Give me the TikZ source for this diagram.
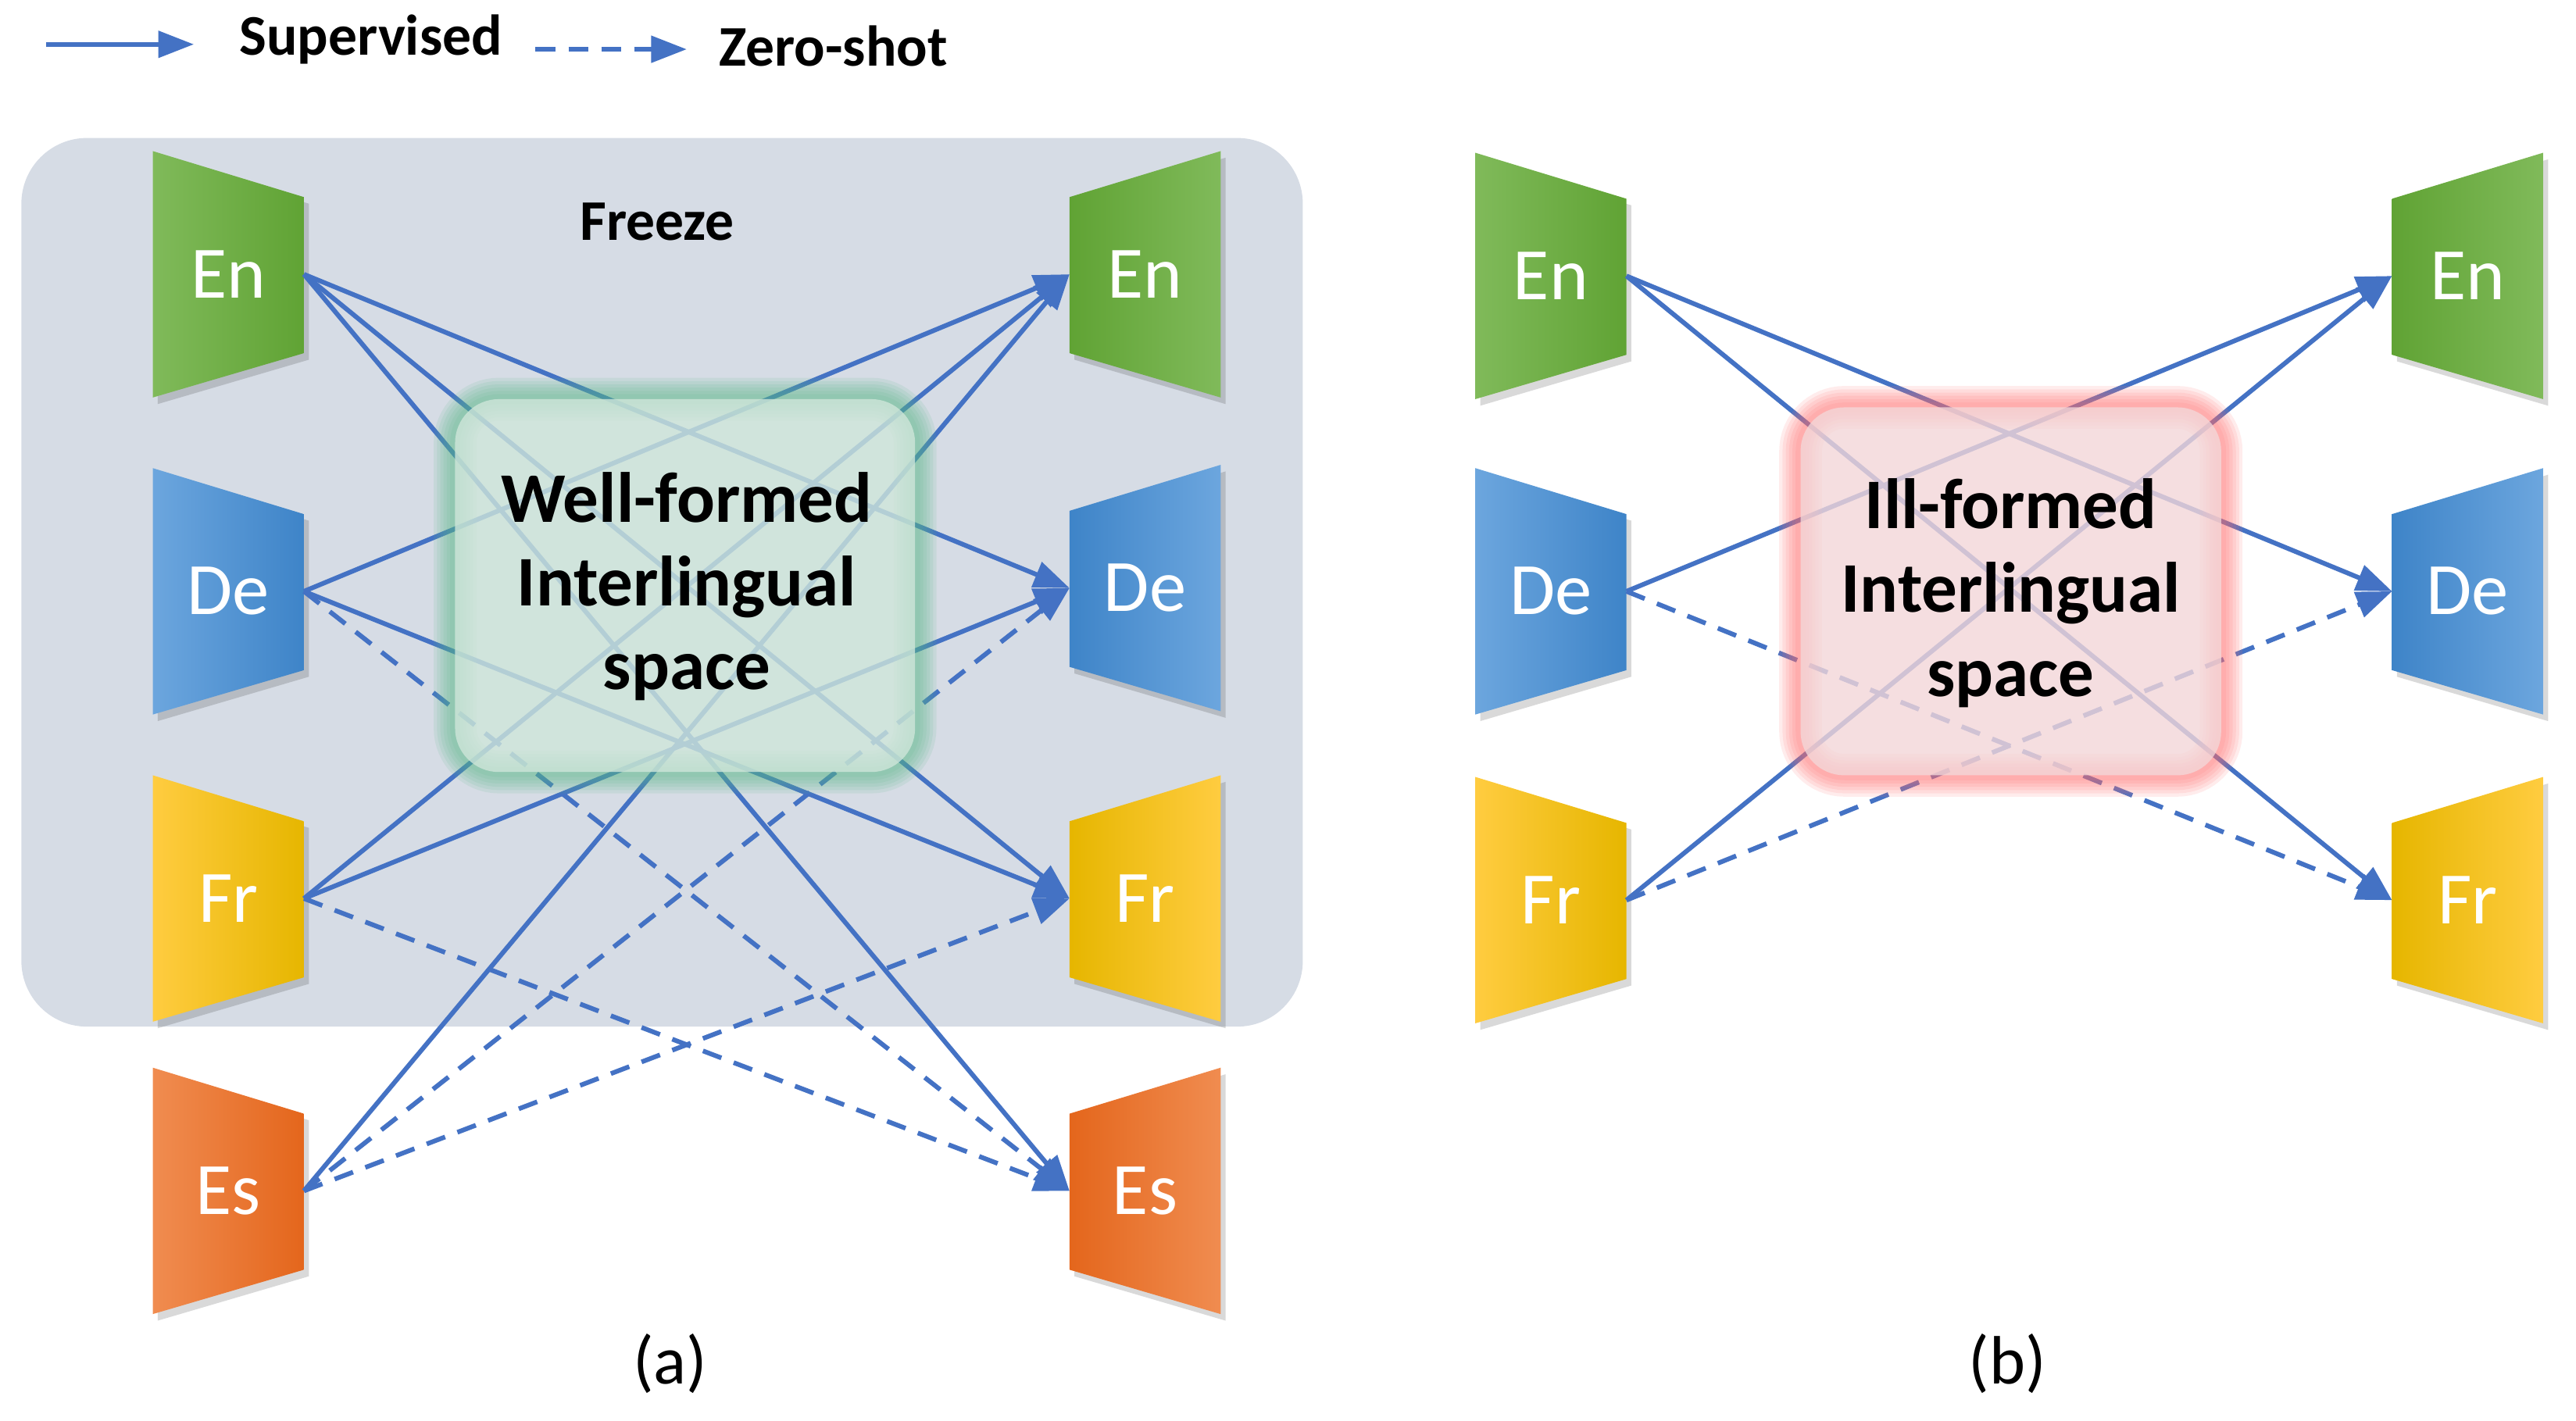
\documentclass[tikz,border=0pt]{standalone}
\usepackage{fontspec}
\setmainfont{Carlito}
\usetikzlibrary{arrows.meta}
\definecolor{ln}{RGB}{68,114,196}
\definecolor{gA}{RGB}{128,186,90}\definecolor{gB}{RGB}{96,163,52}
\definecolor{bA}{RGB}{108,166,222}\definecolor{bB}{RGB}{62,132,200}
\definecolor{yA}{RGB}{255,204,64}\definecolor{yB}{RGB}{230,182,0}
\definecolor{oA}{RGB}{240,140,80}\definecolor{oB}{RGB}{228,102,28}
\definecolor{frz}{RGB}{214,220,229}
\definecolor{glg}{RGB}{90,185,135}
\definecolor{glr}{RGB}{255,110,110}
\newcommand\myEnc[6]{% x y colA colB label name  (wide side left)
  \fill[black,opacity=0.15] (#1-46+3,#2-75+4)--(#1+46+3,#2-47+4)--(#1+46+3,#2+48+4)--(#1-46+3,#2+75+4)--cycle;
  \shade[left color=#3,right color=#4] (#1-46,#2-75)--(#1+46,#2-47)--(#1+46,#2+48)--(#1-46,#2+75)--cycle;
  \node[lab] at (#1,#2) {#5};
  \coordinate (#6) at (#1+46,#2);}
\newcommand\myDec[6]{% wide side right
  \fill[black,opacity=0.15] (#1-46+3,#2-47+4)--(#1+46+3,#2-75+4)--(#1+46+3,#2+75+4)--(#1-46+3,#2+48+4)--cycle;
  \shade[left color=#4,right color=#3] (#1-46,#2-47)--(#1+46,#2-75)--(#1+46,#2+75)--(#1-46,#2+48)--cycle;
  \node[lab] at (#1,#2) {#5};
  \coordinate (#6) at (#1-46,#2);}
\tikzset{x=0.3pt,y=-0.3pt,
  lab/.style={text=white,font=\fontsize{13.5}{15}\selectfont},
  sup/.style={draw=ln,line width=0.85pt,-{Triangle[length=6.5pt,width=4.8pt]}},
  zs/.style={sup,dash pattern=on 3.6pt off 2.4pt},
  big/.style={font=\bfseries\fontsize{13}{15.3}\selectfont,align=center},
}
\begin{document}
\begin{tikzpicture}
\useasboundingbox (0,0) rectangle (1568,865);
% legend
\draw[sup] (28,27) -- (118,27);
\node[anchor=west,font=\bfseries\fontsize{10.5}{12}\selectfont] (ls) at (134,24) {Supervised};
\draw[zs] (326,30) -- (418,30);
\node[anchor=west,font=\bfseries\fontsize{10.5}{12}\selectfont] (lz) at (426,28) {Zero-shot};
% (a)
\fill[frz,rounded corners=12pt] (13,84) rectangle (793,625);
\node[font=\bfseries\fontsize{10.5}{12}\selectfont] (frz) at (400,135) {Freeze};
\myEnc{139}{167}{gA}{gB}{En}{aEn}
\myEnc{139}{360}{bA}{bB}{De}{aDe}
\myEnc{139}{547}{yA}{yB}{Fr}{aFr}
\myEnc{139}{725}{oA}{oB}{Es}{aEs}
\myDec{697}{167}{gA}{gB}{En}{bEn}
\myDec{697}{358}{bA}{bB}{De}{bDe}
\myDec{697}{547}{yA}{yB}{Fr}{bFr}
\myDec{697}{725}{oA}{oB}{Es}{bEs}
\draw[sup] (aEn)--(bDe); \draw[sup] (aEn)--(bFr); \draw[sup] (aEn)--(bEs);
\draw[sup] (aDe)--(bEn); \draw[sup] (aFr)--(bEn); \draw[sup] (aEs)--(bEn);
\draw[sup] (aDe)--(bFr); \draw[sup] (aFr)--(bDe);
\draw[zs] (aDe)--(bEs); \draw[zs] (aFr)--(bEs); \draw[zs] (aEs)--(bDe); \draw[zs] (aEs)--(bFr);
\foreach \w in {26,22,18,14,10,6}
  \draw[glg,opacity=0.12,line width=\w*0.3pt,rounded corners=8pt] (277,243) rectangle (557,470);
\fill[fill={rgb,255:red,207;green,230;blue,218},opacity=0.8,rounded corners=8pt] (277,243) rectangle (557,470);
\node[big] (wf) at (418,357) {Well-formed\\Interlingual\\space};
\node[font=\fontsize{12.5}{14}\selectfont] (la) at (408,830) {(a)};
% (b)
\myEnc{944}{168}{gA}{gB}{En}{cEn}
\myEnc{944}{360}{bA}{bB}{De}{cDe}
\myEnc{944}{548}{yA}{yB}{Fr}{cFr}
\myDec{1502}{168}{gA}{gB}{En}{dEn}
\myDec{1502}{360}{bA}{bB}{De}{dDe}
\myDec{1502}{548}{yA}{yB}{Fr}{dFr}
\draw[sup] (cEn)--(dDe); \draw[sup] (cEn)--(dFr);
\draw[sup] (cDe)--(dEn); \draw[sup] (cFr)--(dEn);
\draw[zs] (cDe)--(dFr); \draw[zs] (cFr)--(dDe);
\foreach \w in {26,22,18,14,10,6}
  \draw[glr,opacity=0.13,line width=\w*0.3pt,rounded corners=8pt] (1096,248) rectangle (1352,472);
\fill[fill={rgb,255:red,243;green,214;blue,216},opacity=0.8,rounded corners=8pt] (1096,248) rectangle (1352,472);
\node[big] (if) at (1224,361) {Ill-formed\\Interlingual\\space};
\node[font=\fontsize{12.5}{14}\selectfont] (lb) at (1222,830) {(b)};
\end{tikzpicture}
\end{document}
